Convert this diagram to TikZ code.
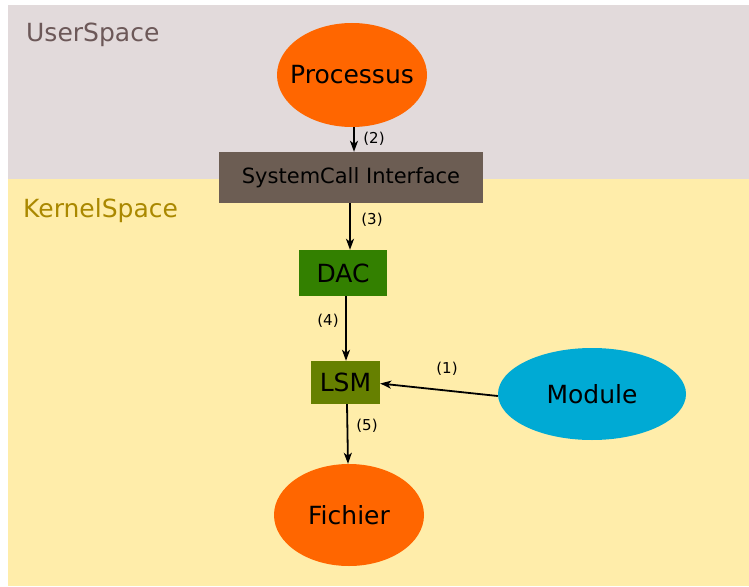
\documentclass[tikz,border=0pt]{standalone}
\usepackage{fontspec}
\setmainfont{DejaVu Sans}
\usetikzlibrary{arrows.meta,shapes.geometric}
\definecolor{userbg}{HTML}{E2DADB}
\definecolor{kernbg}{HTML}{FFEDAA}
\definecolor{usertxt}{HTML}{6C5858}
\definecolor{kerntxt}{HTML}{AA8800}
\definecolor{orangefill}{HTML}{FF6600}
\definecolor{scifill}{HTML}{6C5D53}
\definecolor{dacfill}{HTML}{338000}
\definecolor{lsmfill}{HTML}{668000}
\definecolor{modfill}{HTML}{00AAD4}
\tikzset{
  big/.style={font=\fontsize{25}{30}\selectfont},
  ellnode/.style={ellipse, inner sep=0pt},
  boxnode/.style={rectangle, inner sep=0pt, big},
  txt/.style={inner sep=0pt, big},
  arr/.style={-{Stealth[length=11pt,width=8pt,inset=3pt]}, line width=1.8pt, black},
  elabel/.style={font=\fontsize{15}{18}\selectfont, inner sep=0pt},
  space/.style={font=\fontsize{25}{30}\selectfont, anchor=west, inner sep=0pt}
}
\begin{document}
\begin{tikzpicture}[x=1pt,y=-1pt]
\useasboundingbox (0,0) rectangle (749,586);
\fill[white] (0,0) rectangle (749,586);
\fill[userbg] (8,5) rectangle (749,179);
\fill[kernbg] (8,179) rectangle (749,586);
\node[space, text=usertxt] (us) at (26,35) {UserSpace};
\node[space, text=kerntxt] (ks) at (23,211) {KernelSpace};

\node[ellnode, fill=orangefill, minimum width=150pt, minimum height=104pt] (proc) at (352,75) {};
\node[txt] (proct) at (proc.center) {Processus};
\node[boxnode, fill=scifill, minimum width=264pt, minimum height=51pt, font=\fontsize{21}{25}\selectfont] (sci) at (351,177.5) {SystemCall Interface};
\node[boxnode, fill=dacfill, minimum width=88pt, minimum height=46pt] (dac) at (343,273) {DAC};
\node[boxnode, fill=lsmfill, minimum width=69pt, minimum height=43pt] (lsm) at (345.5,382.5) {LSM};
\node[ellnode, fill=modfill, minimum width=188pt, minimum height=92pt] (mod) at (592,394) {};
\node[txt] (modt) at (mod.center) {Module};
\node[ellnode, fill=orangefill, minimum width=150pt, minimum height=102pt] (fic) at (349,515) {};
\node[txt] (fict) at (fic.center) {Fichier};

\draw[arr] ([xshift=2pt]proc.south) -- ([xshift=3pt]sci.north);
\node[elabel] (l2) at (374,139) {(2)};
\draw[arr] ([xshift=-1pt]sci.south) -- ([xshift=7pt]dac.north);
\node[elabel] (l3) at (372,220) {(3)};
\draw[arr] ([xshift=3pt]dac.south) -- ([xshift=0.5pt]lsm.north);
\node[elabel] (l4) at (328,321) {(4)};
\draw[arr] ([yshift=-2pt]mod.west) -- ([yshift=-1pt]lsm.east);
\node[elabel] (l1) at (447,369) {(1)};
\draw[arr] ([xshift=1.5pt]lsm.south) -- ([xshift=-1pt]fic.north);
\node[elabel] (l5) at (367,426) {(5)};
\end{tikzpicture}
\end{document}
